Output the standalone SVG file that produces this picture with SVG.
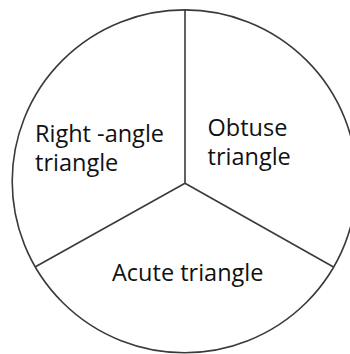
<svg xmlns="http://www.w3.org/2000/svg" width="350" height="354" viewBox="0 0 350 354">
<style>
.ln{fill:none;stroke:#3a3a3a;stroke-width:1.6}
.t{font-family:"Open Sans","Noto Sans",sans-serif;font-size:23.5px;fill:#111}
</style>
<rect width="350" height="354" fill="#fff"/>
<g id="connectors">
<ellipse class="ln" cx="184.5" cy="181.3" rx="172.3" ry="171.4"/>
<line class="ln" x1="185" y1="183.3" x2="185" y2="10"/>
<line class="ln" x1="185" y1="183.3" x2="35" y2="267"/>
<line class="ln" x1="185" y1="183.3" x2="333.5" y2="267"/>
</g>
<g id="right-angle"><text class="t" x="35" y="142">Right -angle</text><text class="t" x="35" y="170.5">triangle</text></g>
<g id="obtuse"><text class="t" x="207.5" y="135.5">Obtuse</text><text class="t" x="207.5" y="165">triangle</text></g>
<g id="acute"><text class="t" x="112" y="281">Acute triangle</text></g>
</svg>
